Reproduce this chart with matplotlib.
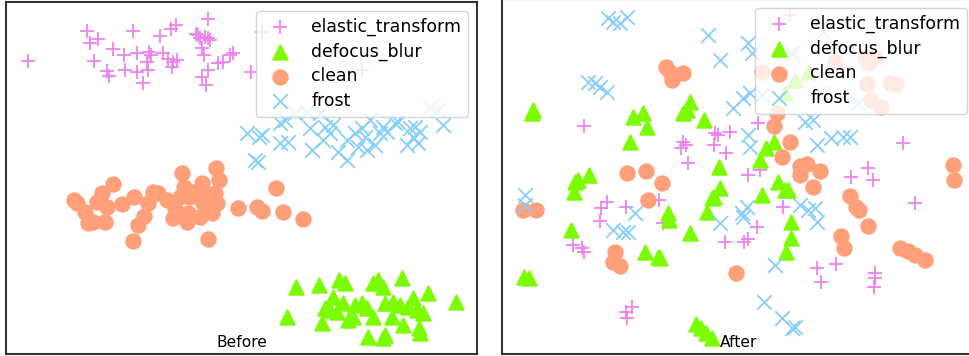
import matplotlib.pyplot as plt
import numpy as np

# 2-D embeddings of the features, before and after adaptation
labels = ["elastic_transform", "defocus_blur", "clean", "frost"]
colors = ["violet", "lawngreen", "lightsalmon", "lightskyblue"]
markers = ["+", "^", "o", "x"]

before_elastic_x = [8.5, 26.0, 27.0, 29.5, 28.2, 32.2, 32.8, 34.0, 37.2, 37.5, 40.0, 41.2, 41.2, 42.8, 44.0,
                    44.7, 45.2, 44.5, 48.0, 49.0, 50.5, 51.2, 52.0, 51.5, 52.8, 53.0, 59.5, 60.0, 60.5, 61.2,
                    62.5, 62.5, 63.0, 60.5, 62.5, 61.8, 65.5, 66.8, 69.0, 70.0, 75.2, 78.5, 108.5, 58.8, 61.5]
before_elastic_y = [87.9, 96.9, 93.4, 94.4, 87.9, 84.9, 83.4, 91.4, 89.7, 85.2, 96.9, 90.2, 84.7, 81.2, 87.7,
                    90.7, 89.7, 85.2, 95.4, 90.4, 88.4, 97.4, 87.7, 86.2, 98.7, 88.2, 95.7, 94.7, 91.7, 89.7,
                    100.4, 94.7, 94.2, 83.2, 85.2, 80.7, 87.2, 87.7, 89.7, 90.2, 84.7, 96.7, 85.2, 95.9, 95.2]

before_defocus_x = [88.8, 86.2, 95.8, 96.5, 97.5, 100.0, 101.0, 101.8, 103.5, 103.0, 104.5, 106.0, 106.5,
                    108.5, 110.0, 110.5, 112.0, 112.0, 113.5, 115.0, 115.5, 115.5, 117.5, 118.0, 120.0, 120.5,
                    121.0, 122.5, 124.0, 125.0, 125.8, 127.0, 128.5, 136.8, 115.0, 126.0, 99.0]
before_defocus_y = [20.0, 11.0, 20.7, 9.2, 13.7, 17.2, 12.7, 22.2, 21.2, 15.2, 10.2, 11.2, 14.7,
                    15.2, 13.7, 5.2, 11.2, 21.2, 22.2, 20.2, 5.7, 15.2, 11.2, 15.7, 14.7, 22.7,
                    8.7, 14.2, 16.7, 13.2, 7.7, 12.2, 18.2, 15.7, 4.7, 6.2, 13.2]

before_clean_x = [22.2, 23.2, 25.5, 26.5, 28.0, 29.0, 30.5, 31.5, 32.0, 34.0, 36.5, 40.3, 41.5, 43.2, 44.5,
                  45.8, 47.5, 50.0, 52.0, 52.5, 54.5, 55.2, 56.0, 56.5, 57.0, 58.0, 60.0, 60.5, 61.0, 62.0,
                  63.5, 64.5, 64.8, 65.0, 65.7, 71.5, 77.0, 78.5, 82.8, 85.0, 90.8, 40.0, 62.4, 54.0]
before_clean_y = [46.2, 45.2, 42.7, 39.2, 39.7, 45.7, 48.2, 39.7, 44.2, 50.9, 44.9, 47.2, 38.7, 41.5, 45.2,
                  48.7, 48.2, 46.2, 40.7, 43.7, 54.2, 50.2, 39.7, 42.2, 47.2, 48.7, 41.2, 51.2, 45.2, 47.2,
                  42.2, 48.2, 55.7, 45.2, 52.2, 43.7, 44.2, 43.0, 49.7, 42.5, 40.4, 34.0, 34.4, 47.2]

before_frost_x = [74.0, 78.5, 77.8, 84.0, 86.5, 84.0, 85.5, 88.5, 93.0, 93.5, 97.0, 97.5, 99.0, 100.0, 96.0,
                  101.5, 104.0, 104.0, 106.5, 107.5, 108.5, 109.5, 110.0, 111.0, 112.5, 114.0, 115.0, 116.0,
                  118.5, 119.5, 122.0, 123.0, 124.0, 125.5, 126.0, 129.0, 131.5, 133.0, 76.5, 77.5, 92.0, 124.5]
before_frost_y = [66.2, 65.7, 65.2, 63.2, 63.7, 69.2, 70.2, 72.2, 67.7, 61.2, 64.2, 68.2, 66.2, 68.7, 72.2,
                  60.7, 58.2, 64.2, 66.2, 62.2, 67.7, 65.2, 61.2, 70.2, 62.7, 66.2, 68.2, 66.7,
                  69.2, 69.7, 62.7, 67.7, 65.2, 63.2, 66.7, 74.2, 73.2, 68.7, 58.2, 57.7, 72.7, 68.2]

after_elastic_x = [26.8, 88.5, 56.5, 57.2, 55.8, 57.8, 66.0, 66.8, 65.8, 70.5, 69.2, 79.0, 76.0, 79.5,
                   122.5, 112.0, 106.8, 113.5, 126.0, 33.5, 31.8, 31.5, 39.2, 49.2, 50.5, 86.5, 78.5,
                   69.0, 74.8, 76.0, 23.5, 26.0, 26.8, 96.5, 102.5, 97.8, 114.0, 114.2, 113.8, 39.2, 41.0, 39.5]
after_elastic_y = [68.4, 101.7, 63.7, 62.7, 61.7, 57.2, 66.2, 65.7, 62.7, 66.7, 60.2, 69.4, 53.7, 55.2,
                   63.4, 55.7, 53.2, 52.2, 45.4, 45.7, 43.7, 40.0, 44.2, 46.2, 39.4, 44.0, 38.2,
                   33.7, 33.7, 34.4, 32.7, 31.7, 30.7, 25.7, 27.0, 21.7, 24.2, 22.7, 20.0, 12.7, 14.2, 10.7]

after_defocus_x = [11.5, 11.0, 41.5, 44.5, 45.5, 40.5, 58.5, 57.5, 56.5, 62.8, 24.0, 25.0, 28.2, 23.7, 22.8,
                   8.8, 10.2, 45.0, 49.0, 49.5, 52.0, 52.2, 58.5, 63.7, 65.2, 65.8, 67.5, 67.2, 80.0, 79.5,
                   81.2, 83.8, 85.0, 87.0, 87.8, 88.8, 88.8, 87.2, 60.3, 61.8, 63.2, 65.0, 94.0, 90.0, 87.0]
after_defocus_y = [73.2, 72.2, 71.2, 72.2, 68.2, 63.7, 75.7, 73.2, 72.2, 70.2, 51.7, 52.2, 53.7, 48.7, 37.2,
                   23.2, 22.7, 30.7, 29.2, 28.7, 42.2, 40.2, 36.2, 42.7, 46.7, 47.2, 49.9, 56.2, 47.7, 58.2,
                   61.7, 63.7, 51.7, 49.2, 49.2, 39.7, 34.7, 30.7, 9.0, 7.7, 6.2, 4.7, 84.7, 82.2, 78.2]

after_clean_x = [51.2, 53.0, 56.5, 52.5, 39.5, 45.2, 50.0, 46.0, 8.5, 12.3, 36.0, 35.5, 37.5, 72.2, 80.0,
                 84.5, 83.8, 88.5, 86.2, 91.5, 93.7, 91.5, 97.5, 95.5, 102.0, 111.0, 112.0, 114.0, 111.8,
                 118.5, 120.5, 112.8, 116.0, 106.5, 108.5, 109.2, 112.0, 103.8, 104.8, 121.5, 124.0, 126.2,
                 129.0, 137.5, 137.8]
after_clean_y = [86.2, 82.2, 84.4, 84.7, 54.2, 55.0, 51.4, 46.2, 43.2, 43.2, 30.5, 27.7, 26.4, 24.4, 84.7,
                 72.2, 68.5, 63.7, 59.0, 56.5, 57.0, 53.7, 55.0, 50.2, 87.7, 88.7, 87.2, 89.2, 81.0,
                 81.4, 81.0, 76.2, 74.2, 47.5, 44.2, 43.2, 38.4, 35.4, 31.7, 31.7, 31.0, 29.7,
                 28.2, 56.7, 52.2]

after_frost_x = [34.0, 35.5, 37.5, 39.5, 63.8, 67.5, 76.0, 77.0, 28.0, 30.0, 31.5, 33.5, 71.5, 74.5, 76.5,
                 80.0, 89.0, 98.5, 97.5, 109.0, 93.0, 95.5, 76.0, 76.5, 96.5, 101.0, 104.5, 106.5, 9.0, 9.0,
                 42.0, 35.5, 38.5, 40.0, 67.5, 74.0, 75.5, 74.5, 91.5, 94.0, 96.0, 96.5, 84.0, 80.8, 86.0,
                 89.0, 90.0]
after_frost_y = [100.7, 99.7, 99.2, 101.2, 95.7, 88.2, 93.2, 90.2, 81.7, 81.2, 80.2, 78.7, 73.7, 76.7, 78.2,
                 77.7, 90.2, 96.7, 78.2, 75.2, 69.7, 70.2, 65.7, 62.2, 62.7, 64.7, 65.2, 65.2, 47.7, 44.7,
                 42.2, 37.2, 36.7, 36.7, 39.2, 42.2, 44.2, 41.2, 44.7, 43.2, 43.7, 39.7, 26.7, 15.7, 10.7,
                 7.7, 8.2]

before = [(before_elastic_x, before_elastic_y), (before_defocus_x, before_defocus_y),
          (before_clean_x, before_clean_y), (before_frost_x, before_frost_y)]
after = [(after_elastic_x, after_elastic_y), (after_defocus_x, after_defocus_y),
         (after_clean_x, after_clean_y), (after_frost_x, after_frost_y)]


def plot_embedding(ax, groups, title, xlim, ylim):
    for k, (xs, ys) in enumerate(groups):
        ax.scatter(np.array(xs), np.array(ys), s=110, c=colors[k], marker=markers[k],
                   linewidths=1.3, label=labels[k])
    ax.set_xlim(*xlim)
    ax.set_ylim(*ylim)
    ax.set_xticks([])
    ax.set_yticks([])
    for spine in ax.spines.values():
        spine.set_color("#333333")
        spine.set_linewidth(1.5)
    ax.legend(loc="upper right", fontsize=12.4, labelspacing=0.38)
    ax.text(0.5, 0.01, title, transform=ax.transAxes, ha="center", va="bottom", fontsize=11.2)


fig = plt.figure(figsize=(9.69, 3.56), dpi=100)
ax1 = fig.add_axes([0.0062, 0.0056, 0.486, 0.9888])
ax2 = fig.add_axes([0.518, 0.0056, 0.489, 0.997])

plot_embedding(ax1, before, "Before", (1.8, 143.1), (0, 105.6))
plot_embedding(ax2, after, "After", (2.1, 144.3), (0, 106.5))

fig.savefig("out.png", dpi=100)
